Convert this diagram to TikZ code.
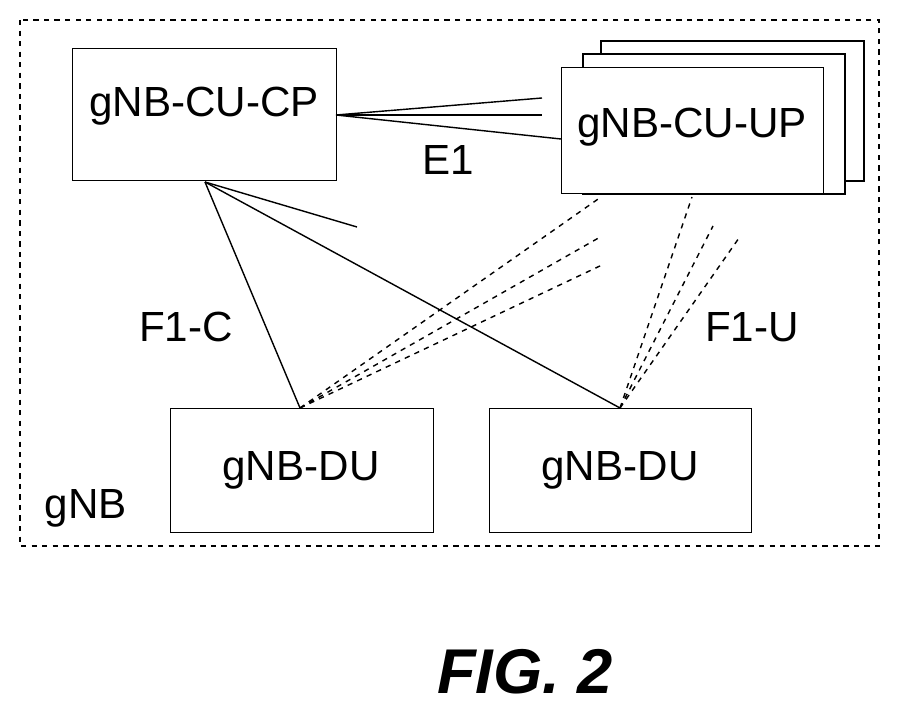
\documentclass[tikz,border=0pt]{standalone}
\usepackage{fontspec}
\setmainfont{Liberation Sans}
\begin{document}
\begin{tikzpicture}[x=0.02cm,y=-0.02cm,
        box/.style={draw, thick, fill=white},
        lbl/.style={font=\fontsize{24}{28}\selectfont},
        link/.style={thick},
        ulink/.style={thick, dashed}]
        \useasboundingbox (0,0) rectangle (900,716);

        \draw[thick, dashed] (20,20) rectangle (879,546);

        % CU-UP stack
        \draw[box] (601,41) rectangle (864,181);
        \draw[box] (583,54) rectangle (845,194);
        \node[box, minimum width=262*0.02cm, minimum height=126*0.02cm, anchor=north west, inner sep=0] (up) at (561,67) {};
        \node[lbl] at (692,127) {gNB-CU-UP};

        \node[box, minimum width=264*0.02cm, minimum height=132*0.02cm, anchor=north west, inner sep=0] (cp) at (72,48) {};
        \node[lbl] at (204,106) {gNB-CU-CP};

        \node[box, minimum width=263*0.02cm, minimum height=124*0.02cm, anchor=north west, inner sep=0] (du1) at (170,408) {};
        \node[lbl] at (301,470) {gNB-DU};
        \node[box, minimum width=262*0.02cm, minimum height=124*0.02cm, anchor=north west, inner sep=0] (du2) at (489,408) {};
        \node[lbl] at (620,470) {gNB-DU};

        % E1
        \coordinate (e1) at (336,115);
        \coordinate (e1a) at (542,98);
        \coordinate (e1b) at (542,115);
        \coordinate (e1c) at (561,139);
        \draw[link] (e1) -- (e1a);
        \draw[link] (e1) -- (e1b);
        \draw[link] (e1) -- (e1c);

        % F1-C
        \coordinate (fc) at (205,182);
        \coordinate (d1) at (300,408);
        \coordinate (d2) at (620,408);
        \coordinate (fcx) at (357,227);
        \draw[link] (fc) -- (d1);
        \draw[link] (fc) -- (d2);
        \draw[link] (fc) -- (fcx);

        % F1-U
        \coordinate (ua) at (601,197);
        \coordinate (ub) at (602,236);
        \coordinate (uc) at (602,265);
        \coordinate (va) at (692,197);
        \coordinate (vb) at (713,226);
        \coordinate (vc) at (739,238);
        \foreach \p in {ua, ub, uc}
                \draw[ulink] (d1) -- (\p);
        \foreach \p in {va, vb, vc}
                \draw[ulink] (d2) -- (\p);

        \node[lbl] at (448,160) {E1};
        \node[lbl] at (186,327) {F1-C};
        \node[lbl] at (752,327) {F1-U};
        \node[lbl] at (86,508) {gNB};
        \node[font=\fontsize{36}{40}\selectfont\bfseries\itshape] at (525,672) {FIG. 2};
\end{tikzpicture}
\end{document}
